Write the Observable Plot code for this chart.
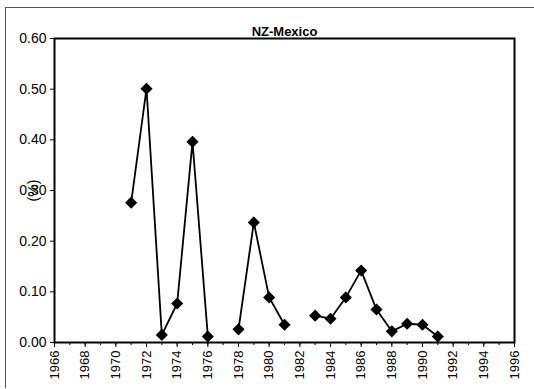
<!DOCTYPE html>
<html>
<head>
<meta charset="utf-8">
<script src="https://cdn.jsdelivr.net/npm/d3@7"></script>
<script src="https://cdn.jsdelivr.net/npm/@observablehq/plot@0.6"></script>
<style>
  html, body { margin: 0; padding: 0; background: #fff; }
  #wrap { position: relative; width: 534px; height: 389px; }
  #border { position: absolute; left: 5px; top: 7px; width: 528px; height: 380px;
            border-left: 1px solid #555; border-top: 1px solid #555; pointer-events: none; }
</style>
</head>
<body>
<div id="wrap"><div id="border"></div></div>
<script>
const title = "NZ-Mexico";
const yLabel = "(%)";
const years = [1971,1972,1973,1974,1975,1976,1977,1978,1979,1980,1981,1982,1983,1984,1985,1986,1987,1988,1989,1990,1991];
const values = [0.276,0.501,0.015,0.077,0.396,0.012,null,0.026,0.237,0.089,0.035,null,0.053,0.047,0.089,0.142,0.065,0.022,0.037,0.035,0.012];
const xTickLabels = d3.range(1966, 1997, 2);
const xMinorTicks = d3.range(1966, 1997, 1);
const yTicks = [0, 0.1, 0.2, 0.3, 0.4, 0.5, 0.6];

const data = years.map((y, i) => ({year: y, value: values[i]}));

const chart = Plot.plot({
  width: 534,
  height: 389,
  marginLeft: 54,
  marginRight: 20,
  marginTop: 38,
  marginBottom: 47,
  style: {fontFamily: "'Liberation Sans', Arial, sans-serif", fontSize: "13px", color: "#000", background: "transparent"},
  x: {domain: [1966, 1996]},
  y: {domain: [0, 0.6]},
  marks: [
    Plot.axisY({ticks: yTicks, tickFormat: d3.format(".2f"), tickSize: 4, tickPadding: 4,
                fontSize: 14, label: yLabel, labelAnchor: "center", labelArrow: "none", labelOffset: 26}),
    Plot.axisX({ticks: xMinorTicks, tickSize: 3, tickFormat: () => "", label: null}),
    Plot.axisX({ticks: xTickLabels, tickSize: 5, tickRotate: -90, tickPadding: 3,
                tickFormat: d => String(d), fontSize: 13, label: null}),
    Plot.frame({stroke: "#000", strokeWidth: 2}),
    Plot.line(data, {x: "year", y: "value", stroke: "#000", strokeWidth: 1.8}),
    Plot.dot(data.filter(d => d.value != null), {x: "year", y: "value", symbol: "diamond2", r: 4.5, fill: "#000", stroke: "#000"}),
    Plot.text([title], {frameAnchor: "top", lineAnchor: "bottom", dy: -3, text: d => d, fontWeight: "bold", fontSize: 13})
  ]
});
document.getElementById("wrap").prepend(chart);
</script>
</body>
</html>
